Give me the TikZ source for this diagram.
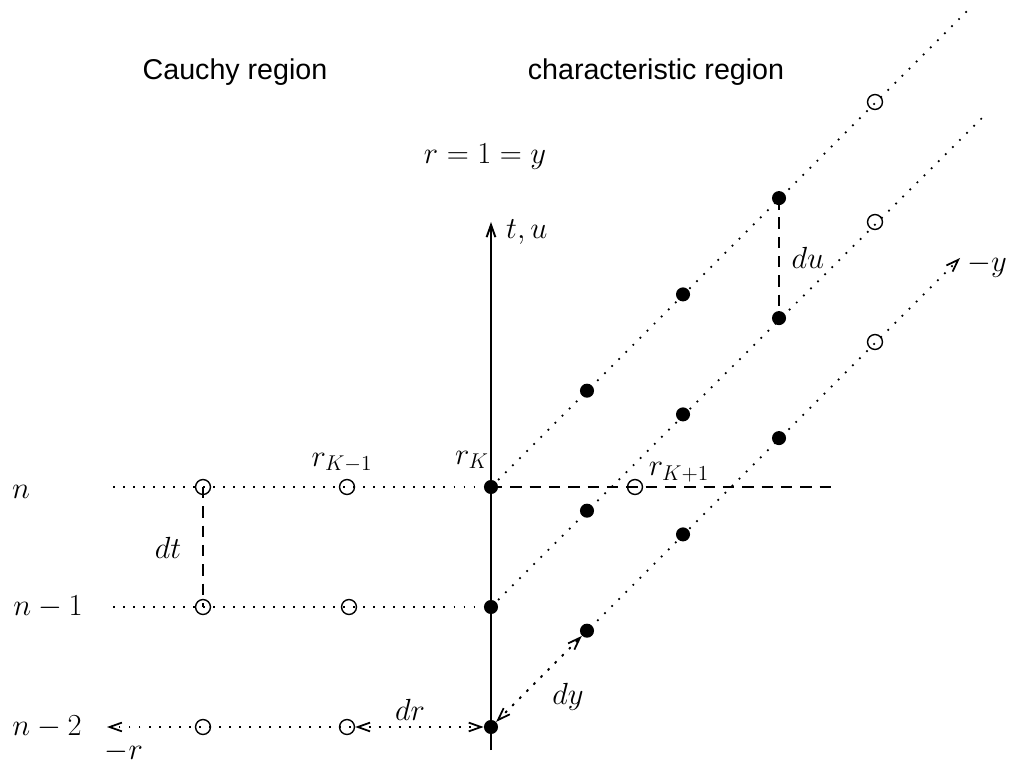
\RequirePackage{fix-cm}
\documentclass[tikz,border=0pt]{standalone}
\usepackage{fontspec}
\setsansfont{Liberation Sans}
\usepackage{tikz}
\usetikzlibrary{arrows.meta}

\begin{document}
\begin{tikzpicture}[
        x=0.02cm,
        y=-0.02cm,
        font=\fontsize{17.4}{20}\selectfont,
        grid/.style={line width=1pt, dash pattern=on 1pt off 4.7pt},
        gap/.style={line width=0.8pt, dash pattern=on 6.5pt off 4.5pt},
        hollow/.style={circle, draw, line width=0.8pt, minimum size=8.5pt, inner sep=0pt},
        knot/.style={circle, fill, minimum size=8pt, inner sep=0pt},
        region/.style={font=\sffamily\fontsize{16.3}{19}\selectfont},
        tip/.style={-{Straight Barb[length=7pt,width=5pt]}},
        both/.style={{Straight Barb[length=7pt,width=5pt]}-{Straight Barb[length=7pt,width=5pt]}}
    ]
        \useasboundingbox (0,0) rectangle (1014,770);

        % grid points on the time levels
        \node[hollow] (a1) at (203,487) {};
        \node[hollow] (a2) at (347,487) {};
        \node[knot]   (aK) at (491,487) {};
        \node[hollow] (b1) at (203,607) {};
        \node[hollow] (b2) at (349,607) {};
        \node[knot]   (bK) at (491,607) {};
        \node[hollow] (c1) at (203,727) {};
        \node[hollow] (c2) at (347,727) {};
        \node[knot]   (cK) at (491,727) {};
        \node[hollow] (rK1) at (635,487) {};

        % points on the characteristics
        \foreach \row/\y in {p/487,q/607,s/727} {
            \foreach \i in {1,2,3} {
                \node[knot] (\row\i) at ({491+96*\i},{\y-96.3*\i}) {};
            }
            \node[hollow] (\row4) at (875,{\y-385}) {};
        }

        \coordinate (aL) at (113,487);
        \coordinate (bL) at (113,607);
        \coordinate (cL) at (107,727);
        \coordinate (aR) at (835,487);
        \coordinate (pe) at (970,8);
        \coordinate (qe) at (983,117);
        \coordinate (se) at (960,258);
        \coordinate (bot) at (491,750);
        \coordinate (top) at (491,222);

        % axes and lines
        \draw[line width=1.1pt, tip] (bot) -- (top);
        \draw[grid] (aL) -- (aK.center);
        \draw[grid] (bL) -- (bK.center);
        \draw[grid, tip] (cK.center) -- (cL);
        \draw[gap] (aK.center) -- (aR);
        \draw[grid] (aK.center) -- (pe);
        \draw[grid] (bK.center) -- (qe);
        \draw[grid, tip] (cK.center) -- (se);

        % increments
        \draw[gap] (a1.center) -- (b1.center);
        \draw[gap] (p3.center) -- (q3.center);
        \draw[grid, both] (c2.east) -- (cK.west);
        \draw[grid, both] (cK.north east) -- (s1.south west);

        % labels
        \node[region] (cauchy) at (235,72) {Cauchy region};
        \node[region] (charac) at (656,72) {characteristic region};
        \node (bdry) at (485,157) {$r=1=y$};
        \node[anchor=west] (tu) at (500,232) {$t,u$};
        \node (ln) at (21,492) {$n$};
        \node (ln1) at (48,607) {$n-1$};
        \node (ln2) at (47,727) {$n-2$};
        \node (mr) at (124,752) {$-r$};
        \node (my) at (987,266) {$-y$};
        \node (lKm) at (342,463) {$r_{K-1}$};
        \node (lK) at (472,460) {$r_K$};
        \node (lKp) at (679,472) {$r_{K+1}$};
        \node (dt) at (168,548) {$dt$};
        \node (dr) at (410,710) {$dr$};
        \node (dy) at (568,697) {$dy$};
        \node (du) at (808,258) {$du$};
    \end{tikzpicture}
\end{document}
